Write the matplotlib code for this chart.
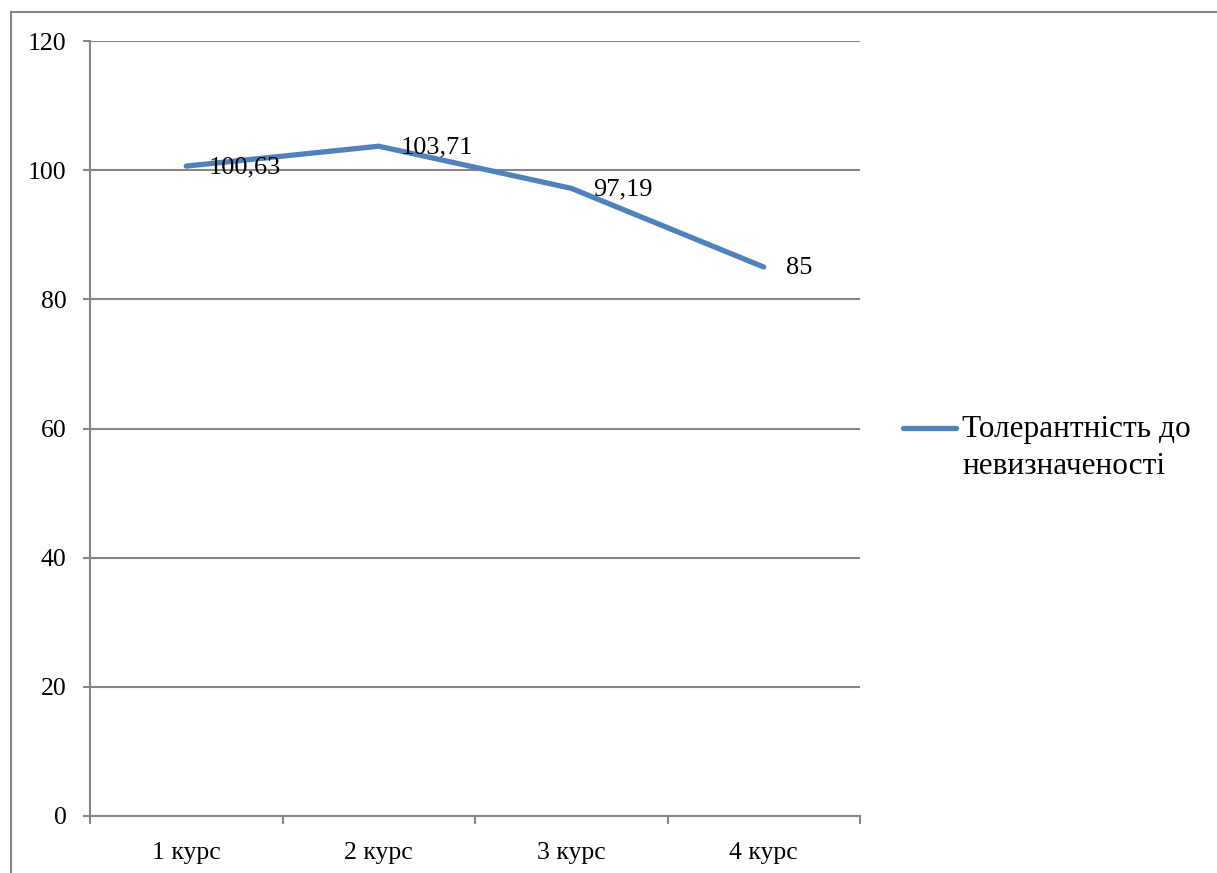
import matplotlib.pyplot as plt
from matplotlib.lines import Line2D

#region data
categories = ['1 курс', '2 курс', '3 курс', '4 курс']
values = [100.63, 103.71, 97.19, 85]
value_labels = ['100,63', '103,71', '97,19', '85']
series_name = 'Толерантність до\nневизначеності'
y_ticks = [0, 20, 40, 60, 80, 100, 120]
#endregion

plt.rcParams['font.family'] = ['Liberation Serif', 'DejaVu Serif']

W, H = 1217, 873
fig = plt.figure(figsize=(W / 100, H / 100), dpi=100)
fig.patch.set_facecolor('white')

grid_c = '#868686'
line_c = '#4F81BD'

# outer chart frame (only top and left edges show)
fx0, fy = 10.5 / W, 1 - 11.5 / H
fig.add_artist(Line2D([fx0, fx0], [0, fy], transform=fig.transFigure, color=grid_c, lw=1.5))
fig.add_artist(Line2D([fx0, 1], [fy, fy], transform=fig.transFigure, color=grid_c, lw=1.5))

ax = fig.add_axes([90 / W, 57 / H, 770 / W, 775 / H])
n = len(categories)
xs = list(range(n))
ax.set_xlim(-0.5, n - 0.5)
ax.set_ylim(0, 120)

for y in y_ticks:
  ax.axhline(y, color=grid_c, lw=1.5, zorder=1)

ax.plot(xs, values, color=line_c, lw=3.8, solid_capstyle='round', zorder=3)
for x, v, lab in zip(xs, values, value_labels):
  ax.annotate(lab, (x, v), xytext=(16, -1), textcoords='offset points',
              ha='left', va='center', fontsize=19, zorder=4)

for s in ['top', 'right']:
  ax.spines[s].set_visible(False)
for s in ['left', 'bottom']:
  ax.spines[s].set_color(grid_c)
  ax.spines[s].set_linewidth(1.5)

ax.set_yticks(y_ticks)
ax.set_yticklabels([str(y) for y in y_ticks])
ax.tick_params(axis='y', length=5, width=1.5, color=grid_c, labelsize=18.5, pad=12)

# category labels in the middle, tick marks at the boundaries
ax.set_xticks([x - 0.5 for x in range(n + 1)])
ax.set_xticklabels([])
ax.tick_params(axis='x', length=6, width=1.5, color=grid_c)
ax.set_xticks(xs, minor=True)
ax.set_xticklabels(categories, minor=True)
ax.tick_params(axis='x', which='minor', length=0, labelsize=18.5, pad=19)

# legend
lx0, lx1, ly = 903 / W, 956 / W, 1 - 428 / H
fig.add_artist(Line2D([lx0, lx1], [ly, ly], transform=fig.transFigure,
                      color=line_c, lw=3.8, solid_capstyle='round'))
fig.text(962 / W, 1 - 415 / H, series_name, ha='left', va='top', fontsize=22.5,
         linespacing=1.35)

fig.savefig('out.png', dpi=100, facecolor='white')
